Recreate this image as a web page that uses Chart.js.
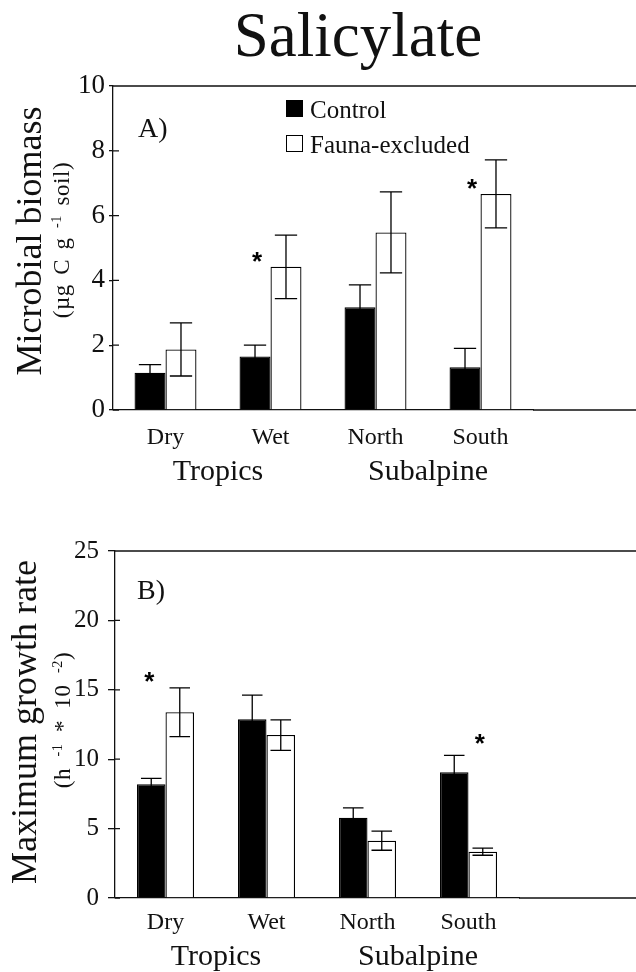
<!DOCTYPE html>
<html>
<head>
<meta charset="utf-8">
<script src="https://cdn.jsdelivr.net/npm/chart.js@4.4.1/dist/chart.umd.min.js"></script>
<style>
html,body{margin:0;padding:0;width:636px;height:972px;overflow:hidden;background:#fff;}
body{position:relative;font-family:"Liberation Serif","Times New Roman",serif;color:#111;}
.wrap{position:absolute;left:0;}
.t{position:absolute;white-space:nowrap;line-height:1;}
.rot{transform:translate(-50%,-50%) rotate(-90deg);}
.sw{position:absolute;width:15px;height:15px;border:1.5px solid #000;}
sup{font-size:62%;vertical-align:0.5em;line-height:0;}
</style>
</head>
<body>
<div class="t" id="title" style="font-size:63px;left:358px;top:4px;transform:translateX(-50%);">Salicylate</div>

<div class="wrap" style="top:0;width:636px;height:505px;"><canvas id="chartA" width="636" height="505"></canvas></div>
<div class="wrap" style="top:505px;width:636px;height:467px;"><canvas id="chartB" width="636" height="467"></canvas></div>

<!-- panel A texts -->
<div class="t rot" style="font-size:36px;left:29px;top:241px;">Microbial biomass</div>
<div class="t rot" style="font-size:23px;left:61px;top:240px;letter-spacing:0.6px;word-spacing:3px;">(µg C g <sup>-1</sup> soil)</div>
<div class="t" style="font-size:28px;left:138px;top:114px;">A)</div>
<div class="sw" style="left:286px;top:100px;background:#000;"></div>
<div class="t" style="font-size:25px;left:310px;top:97px;">Control</div>
<div class="sw" style="left:286px;top:135px;background:#fff;"></div>
<div class="t" style="font-size:25px;left:310px;top:132px;">Fauna-excluded</div>

<!-- panel B texts -->
<div class="t rot" style="font-size:36px;left:24px;top:722px;">Maximum growth rate</div>
<div class="t rot" style="font-size:23px;left:62px;top:720px;letter-spacing:0.6px;word-spacing:5px;">(h <sup>-1</sup> * 10 <sup>-2</sup>)</div>
<div class="t" style="font-size:28px;left:137px;top:576px;">B)</div>

<script>
// ---------------- data ----------------
const categories = ['Dry', 'Wet', 'North', 'South'];
const groups = ['Tropics', 'Subalpine'];
const seriesNames = ['Control', 'Fauna-excluded'];

// Panel A: microbial biomass (µg C g-1 soil)
const biomassControl    = [1.15, 1.65, 3.17, 1.32];
const biomassControlErr = [0.25, 0.35, 0.69, 0.58];
const biomassFauna      = [1.87, 4.42, 5.48, 6.67];
const biomassFaunaErr   = [0.82, 0.98, 1.25, 1.05];
const biomassStar       = [null, 4.78, null, 7.05];   // asterisk heights (value units)
const biomassStarSeries = [null, 0, null, 0];
const biomassTicks      = [0, 2, 4, 6, 8, 10];

// Panel B: maximum growth rate (h-1 * 10-2)
const growthControl    = [8.19, 12.87, 5.79, 9.06];
const growthControlErr = [0.43, 1.75, 0.70, 1.22];
const growthFauna      = [13.38, 11.74, 4.13, 3.34];
const growthFaunaErr   = [1.76, 1.10, 0.69, 0.26];
const growthStar       = [16.1, null, null, 11.6];
const growthStarSeries = [0, null, null, 1];
const growthTicks      = [0, 5, 10, 15, 20, 25];

// ---------------- helpers ----------------
Chart.defaults.font.family = "'Liberation Serif','Times New Roman',serif";
Chart.defaults.color = '#111';

const decor = {
  id: 'decor',
  afterDatasetsDraw(chart, args, o) {
    const ctx = chart.ctx, y = chart.scales.y;
    ctx.save();
    ctx.strokeStyle = '#000';
    ctx.lineWidth = 1.3;
    chart.data.datasets.forEach((ds, di) => {
      const meta = chart.getDatasetMeta(di);
      meta.data.forEach((bar, i) => {
        const v = ds.data[i], e = o.errors[di][i];
        const x = bar.x, hw = bar.width * 0.36;
        const yt = y.getPixelForValue(v + e), yb = y.getPixelForValue(v - e);
        ctx.beginPath();
        ctx.moveTo(x, yt); ctx.lineTo(x, yb);
        ctx.moveTo(x - hw, yt); ctx.lineTo(x + hw, yt);
        ctx.moveTo(x - hw, yb); ctx.lineTo(x + hw, yb);
        ctx.stroke();
      });
    });
    // significance asterisks
    ctx.fillStyle = '#000';
    ctx.font = "bold 26px 'Liberation Sans', Arial, sans-serif";
    ctx.textAlign = 'center';
    ctx.textBaseline = 'alphabetic';
    o.stars.forEach((s, i) => {
      if (s === null) return;
      const bar = chart.getDatasetMeta(o.starSeries[i]).data[i];
      const x = bar.x + (o.starShift[i] || 0);
      ctx.fillText('*', x, y.getPixelForValue(s) + 0.58 * 26);
    });
    ctx.restore();
  },
  afterDraw(chart, args, o) {
    const ctx = chart.ctx, a = chart.chartArea, y = chart.scales.y;
    ctx.save();
    ctx.strokeStyle = '#111';
    ctx.lineWidth = 1.3;
    ctx.beginPath();
    // top frame line and bottom line running to the page edge
    ctx.moveTo(a.left, a.top); ctx.lineTo(chart.width, a.top);
    ctx.moveTo(a.right, a.bottom); ctx.lineTo(chart.width, a.bottom);
    // inward part of the y ticks
    y.ticks.forEach((t, i) => {
      const py = y.getPixelForTick(i);
      ctx.moveTo(a.left, py); ctx.lineTo(a.left + o.innerTick, py);
    });
    ctx.stroke();
    ctx.restore();
  }
};

function makeChart(id, ctrl, ctrlErr, fauna, faunaErr, stars, starSeries, starShift, ticks, geo) {
  return new Chart(document.getElementById(id), {
    type: 'bar',
    data: {
      labels: categories,
      datasets: [
        { label: seriesNames[0], data: ctrl, backgroundColor: '#000', borderColor: '#000', borderWidth: 1.3 },
        { label: seriesNames[1], data: fauna, backgroundColor: '#fff', borderColor: '#000', borderWidth: 1.3 }
      ]
    },
    options: {
      responsive: false,
      animation: false,
      devicePixelRatio: 1,
      layout: { padding: geo.padding },
      datasets: { bar: { barPercentage: 1, categoryPercentage: geo.catPct } },
      plugins: {
        legend: { display: false },
        title: { display: false },
        tooltip: { enabled: false },
        decor: { errors: [ctrlErr, faunaErr], stars, starSeries, starShift, innerTick: geo.innerTick }
      },
      scales: {
        x: {
          type: 'category',
          grid: { display: false },
          border: { display: true, color: '#111', width: 1.3 },
          ticks: { font: { size: 24 }, color: '#111', padding: geo.xPad, autoSkip: false, maxRotation: 0 },
          afterFit(s) { s.height = geo.xH; }
        },
        x2: {
          type: 'category',
          labels: groups,
          position: 'bottom',
          offset: true,
          grid: { display: false },
          border: { display: false },
          ticks: { font: { size: 30, lineHeight: 1 }, color: '#111', padding: geo.x2Pad, autoSkip: false, maxRotation: 0 },
          afterFit(s) { s.height = geo.x2H; }
        },
        y: {
          min: ticks[0],
          max: ticks[ticks.length - 1],
          afterBuildTicks(s) { s.ticks = ticks.map(v => ({ value: v })); },
          grid: { display: true, drawOnChartArea: false, drawTicks: true, tickLength: geo.tickLen, color: '#111', lineWidth: 1.3 },
          border: { display: true, color: '#111', width: 1.3 },
          ticks: { font: { size: geo.yFont }, color: '#111', padding: geo.yPad },
          afterFit(s) { s.width = geo.yW; }
        }
      }
    },
    plugins: [decor]
  });
}

makeChart('chartA', biomassControl, biomassControlErr, biomassFauna, biomassFaunaErr,
  biomassStar, biomassStarSeries, [0, 2, 0, 7], biomassTicks,
  { padding: { top: 86, right: 103, bottom: 11, left: 0 }, catPct: 0.59,
    xPad: 5, xH: 44, x2Pad: -5, x2H: 40, yPad: 4, yW: 113, yFont: 27, tickLen: 4, innerTick: 6 });

makeChart('chartB', growthControl, growthControlErr, growthFauna, growthFaunaErr,
  growthStar, growthStarSeries, [-2, 0, 0, -3], growthTicks,
  { padding: { top: 46, right: 117, bottom: 0, left: 0 }, catPct: 0.565,
    xPad: 2, xH: 36, x2Pad: 0, x2H: 38, yPad: 9, yW: 115, yFont: 25, tickLen: 7, innerTick: 5 });
</script>
</body>
</html>
